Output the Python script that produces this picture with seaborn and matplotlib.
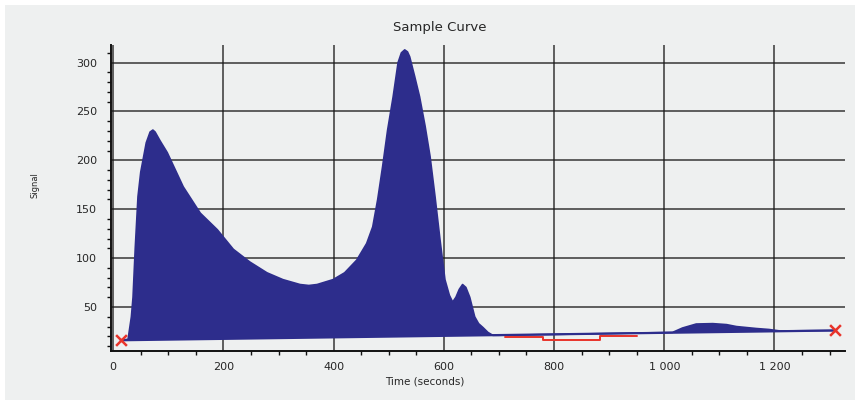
import numpy as np
import pandas as pd
import matplotlib
matplotlib.use("Agg")
import matplotlib.pyplot as plt
import seaborn as sns
from matplotlib.patches import Rectangle
from matplotlib.ticker import MultipleLocator

# values
time = [15, 27, 33, 36, 40, 45, 50, 54, 60, 67, 72, 76, 85, 98, 127, 158, 189,
        218, 248, 279, 308, 339, 355, 370, 399, 420, 442, 460, 471, 480, 489,
        498, 508, 517, 523, 529, 534, 538, 547, 556, 566, 575, 584, 593, 602,
        610, 616, 622, 628, 634, 640, 647, 656, 663, 671, 680, 689, 700, 1015,
        1033, 1058, 1088, 1113, 1131, 1167, 1190, 1210, 1310]
signal = [16, 17, 40, 60, 110, 163, 188, 200, 218, 229, 231, 229, 220, 208, 173,
          146, 129, 109, 96, 85, 78, 73, 72, 73, 78, 85, 98, 115, 132, 160, 194,
          231, 265, 300, 310, 313, 311, 306, 286, 265, 235, 204, 163, 119, 78,
          62, 55, 60, 68, 73, 70, 60, 40, 33, 29, 24, 21, 21, 24,
          28.5, 32.6, 33, 32, 30, 28, 27, 25.5, 26]

# baseline end markers
marker_time = [15, 1310]
marker_signal = [16, 26]

# red baseline trace
red_time = [711, 780, 780, 883, 883, 950]
red_signal = [19.5, 19.5, 16.5, 16.5, 20.5, 20.5]

x_ticks = [0, 200, 400, 600, 800, 1000, 1200]
x_labels = ["0", "200", "400", "600", "800", "1 000", "1 200"]
y_ticks = [50, 100, 150, 200, 250, 300]

df = pd.DataFrame({"Time": time, "Signal": signal})

sns.set_style("white")
plt.rcParams["font.family"] = ["DejaVu Sans"]

fig = plt.figure(figsize=(8.6, 4.05), dpi=100, facecolor="white")
fig.patches.append(Rectangle((5 / 860, 5 / 405), 850 / 860, 395 / 405,
                             transform=fig.transFigure, facecolor="#eef0f0",
                             edgecolor="none", zorder=-10))
ax = fig.add_axes([111 / 860, 1 - 351 / 405, 734 / 860, 306 / 405])
ax.set_facecolor("#eef0f0")

navy = "#2d2d8c"
ax.fill(df["Time"], df["Signal"], color=navy, zorder=3, linewidth=0)
sns.lineplot(data=df, x="Time", y="Signal", ax=ax, color=navy, linewidth=1.2,
             sort=False, estimator=None, zorder=4)
ax.plot(marker_time, marker_signal, color=navy, linewidth=1.6, zorder=4)
ax.plot(red_time, red_signal, color="#e8332a", linewidth=1.4, zorder=5)
ax.scatter(marker_time, marker_signal, marker="x", color="#e8332a", s=60,
           linewidths=1.8, zorder=6)

ax.set_xlim(-4, 1328)
ax.set_ylim(5, 318)
ax.set_xticks(x_ticks)
ax.set_xticklabels(x_labels)
ax.set_yticks(y_ticks)
ax.xaxis.set_minor_locator(MultipleLocator(50))
ax.yaxis.set_minor_locator(MultipleLocator(10))

ax.grid(True, which="major", color="#1a1a1a", linewidth=1.2, alpha=0.8)
ax.set_axisbelow(True)
for side in ["top", "right"]:
    ax.spines[side].set_visible(False)
for side in ["left", "bottom"]:
    ax.spines[side].set_color("#111111")
    ax.spines[side].set_linewidth(1.4)

ax.tick_params(axis="y", which="major", direction="out", length=9, width=1.2,
               labelsize=8, pad=1, color="#111111")
ax.tick_params(axis="y", which="minor", direction="out", length=3, width=1,
               color="#111111", left=True)
ax.tick_params(axis="x", which="major", direction="inout", length=10, width=1.2,
               labelsize=8, pad=3, color="#111111")
ax.tick_params(axis="x", which="minor", direction="out", length=3, width=1,
               color="#111111", bottom=True)

ax.set_xlabel("")
ax.set_ylabel("")
fig.text(440 / 860, 1 - 27 / 405, "Sample Curve", ha="center", va="center",
         fontsize=9.5)
fig.text(425 / 860, 1 - 381 / 405, "Time (seconds)", ha="center", va="center",
         fontsize=7.5)
fig.text(35 / 860, 1 - 185 / 405, "Signal", ha="center", va="center",
         fontsize=6, rotation=90)

fig.savefig("out.png", dpi=100, facecolor=fig.get_facecolor())
